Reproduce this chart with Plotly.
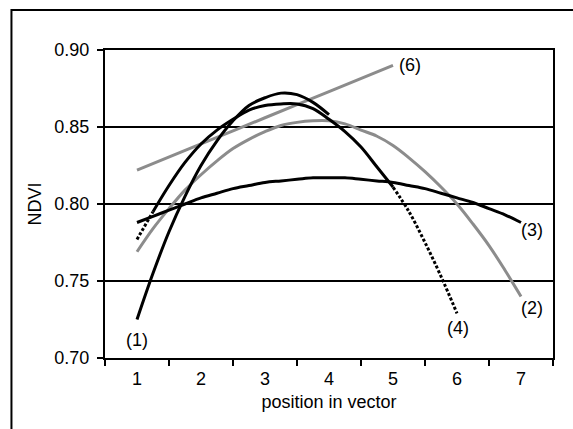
import plotly.graph_objects as go

# ---- data ----
pos_1 = [1.0, 1.25, 1.5, 1.75, 2.0, 2.25, 2.5, 2.75, 3.0, 3.25, 3.5, 3.75, 4.0]
ndvi_1 = [0.725, 0.755, 0.782, 0.805, 0.825, 0.841, 0.854, 0.864, 0.869, 0.872, 0.871, 0.866, 0.858]

pos_2 = [1.0, 1.25, 1.5, 1.75, 2.0, 2.25, 2.5, 2.75, 3.0, 3.25, 3.5, 3.75, 4.0,
         4.25, 4.5, 4.75, 5.0, 5.25, 5.5, 5.75, 6.0, 6.25, 6.5, 6.75, 7.0]
ndvi_2 = [0.769, 0.784, 0.797, 0.809, 0.819, 0.828, 0.836, 0.842, 0.847, 0.851, 0.853, 0.854, 0.854,
          0.852, 0.848, 0.844, 0.838, 0.830, 0.821, 0.811, 0.800, 0.787, 0.773, 0.757, 0.740]

pos_3 = [1.0, 1.25, 1.5, 1.75, 2.0, 2.25, 2.5, 2.75, 3.0, 3.25, 3.5, 3.75, 4.0,
         4.25, 4.5, 4.75, 5.0, 5.25, 5.5, 5.75, 6.0, 6.25, 6.5, 6.75, 7.0]
ndvi_3 = [0.788, 0.792, 0.796, 0.800, 0.804, 0.807, 0.810, 0.812, 0.814, 0.815, 0.816, 0.817, 0.817,
          0.817, 0.816, 0.815, 0.814, 0.812, 0.810, 0.807, 0.804, 0.801, 0.797, 0.793, 0.788]

pos_4 = [1.0, 1.25, 1.5, 1.75, 2.0, 2.25, 2.5, 2.75, 3.0, 3.25, 3.5, 3.75, 4.0,
         4.25, 4.5, 4.75, 5.0, 5.25, 5.5, 5.75, 6.0]
ndvi_4 = [0.777, 0.795, 0.812, 0.827, 0.839, 0.848, 0.855, 0.861, 0.864, 0.865, 0.865, 0.862, 0.855,
          0.847, 0.837, 0.824, 0.811, 0.795, 0.775, 0.753, 0.729]

pos_6 = [1, 2, 3, 4, 5]
ndvi_6 = [0.822, 0.839, 0.856, 0.873, 0.890]

x_ticks = [1, 2, 3, 4, 5, 6, 7]
x_tick_text = ["1", "2", "3", "4", "5", "6", "7"]
y_ticks = [0.70, 0.75, 0.80, 0.85, 0.90]
y_tick_text = ["0.70", "0.75", "0.80", "0.85", "0.90"]

curve_labels = ["(1)", "(2)", "(3)", "(4)", "(6)"]

BLACK = "#000000"
GRAY = "#8c8c8c"
FONT = "Liberation Sans, Arial, sans-serif"

fig = go.Figure()

def add(x, y, color, dash="solid", width=3):
    fig.add_trace(go.Scatter(x=x, y=y, mode="lines", showlegend=False,
                             line=dict(color=color, width=width, dash=dash, shape="spline"),
                             hoverinfo="skip"))

add(pos_6, ndvi_6, GRAY)
add(pos_2, ndvi_2, GRAY)
add(pos_3, ndvi_3, BLACK)
add(pos_1, ndvi_1, BLACK)
# curve (4): dotted at both ends, solid in the middle
add(pos_4[:2], ndvi_4[:2], BLACK, dash="3px,2px")
add(pos_4[1:17], ndvi_4[1:17], BLACK)
add(pos_4[16:], ndvi_4[16:], BLACK, dash="3px,2px")

label_pos = {
    "(1)": (1.0, 0.712),
    "(2)": (7.17, 0.7325),
    "(3)": (7.17, 0.7833),
    "(4)": (6.02, 0.7196),
    "(6)": (5.27, 0.8903),
}
for t in curve_labels:
    lx, ly = label_pos[t]
    fig.add_annotation(x=lx, y=ly, text=t, showarrow=False,
                       font=dict(family=FONT, size=18, color=BLACK),
                       xanchor="center", yanchor="middle")

# outer chart-area frame
fig.add_shape(type="rect", xref="paper", yref="paper",
              x0=-0.2088, x1=1.3, y0=-0.6, y1=1.1297,
              line=dict(color=BLACK, width=2), layer="below")

fig.update_layout(
    width=573, height=429,
    margin=dict(l=105, r=20, t=50, b=71),
    paper_bgcolor="white", plot_bgcolor="white",
    font=dict(family=FONT, size=18, color=BLACK),
    showlegend=False,
)

fig.update_xaxes(
    range=[0.5, 7.5], tickmode="array", tickvals=x_ticks, ticktext=x_tick_text,
    ticks="", showgrid=False, zeroline=False,
    showline=True, linecolor=BLACK, linewidth=2, mirror=True,
    minor=dict(tickmode="linear", tick0=0.5, dtick=1, ticks="outside",
               ticklen=6, tickwidth=2, tickcolor=BLACK, showgrid=False),
    ticklabelstandoff=3,
    title=dict(text="position in vector", standoff=8, font=dict(size=18)),
)

fig.update_yaxes(
    range=[0.70, 0.90], tickmode="array", tickvals=y_ticks, ticktext=y_tick_text,
    ticks="outside", ticklen=6, tickwidth=2, tickcolor=BLACK,
    showgrid=True, gridcolor=BLACK, gridwidth=2, zeroline=False,
    showline=True, linecolor=BLACK, linewidth=2, mirror=True,
    ticklabelstandoff=4,
    title=dict(text="NDVI", standoff=8, font=dict(size=18)),
)

fig.write_html("out.html")
